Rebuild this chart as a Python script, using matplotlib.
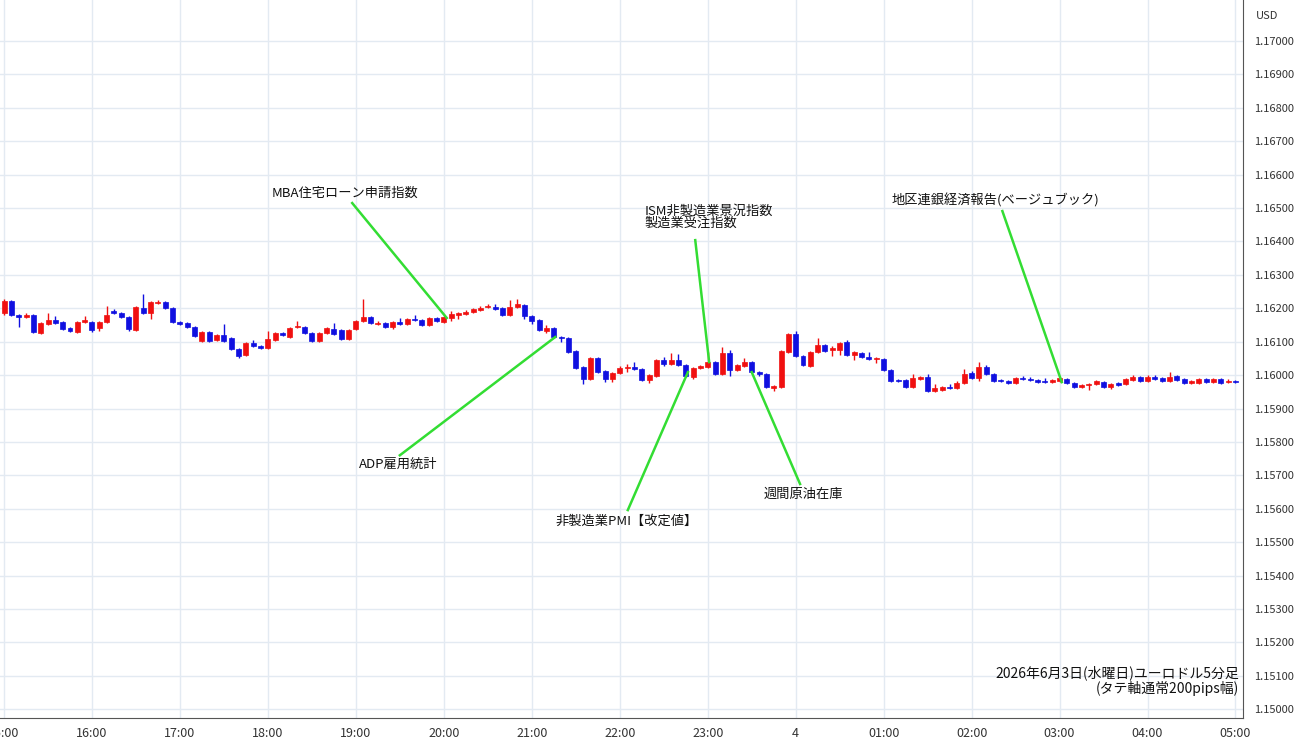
import matplotlib
matplotlib.use("Agg")
import matplotlib.pyplot as plt
import numpy as np

plt.rcParams['font.family'] = ['Noto Sans CJK JP', 'DejaVu Sans']

# prices stored as pips above 1.15000 (5-minute candles from 15:00)
opens = [118.5,122.1,117.9,117.3,117.9,112.5,115.2,116.4,115.8,114.0,112.8,115.8,115.8,114.0,115.8,119.1,118.5,117.3,113.4,120.0,
 118.5,121.5,121.8,120.0,115.8,115.5,114.3,110.1,112.8,110.4,111.9,111.0,107.7,105.9,109.5,108.6,108.0,110.4,112.5,111.3,
 114.3,114.3,112.5,110.1,112.5,113.7,113.4,110.7,113.7,116.1,117.3,115.4,115.5,114.3,115.8,115.2,116.7,116.4,114.9,117.0,
 115.8,117.0,117.9,118.2,118.8,119.4,120.3,120.3,120.0,117.9,120.3,120.9,117.6,116.4,113.1,114.0,111.3,111.0,107.1,102.3,
 98.7,105.0,101.1,98.7,100.5,102.0,102.3,101.7,98.4,99.6,104.4,103.2,104.4,102.9,99.3,102.0,102.3,103.8,100.2,106.5,
 101.4,102.6,103.8,100.8,100.2,96.0,96.3,106.8,112.2,105.6,102.6,106.8,108.9,107.4,107.4,109.8,105.9,106.5,105.3,104.7,
 104.7,101.4,98.4,98.4,96.3,98.7,99.3,95.1,95.4,96.3,96.0,97.5,100.5,99.0,102.3,100.2,98.4,98.1,97.5,99.0,
 98.7,98.4,98.1,97.8,98.1,98.7,97.5,96.3,96.9,97.2,97.8,96.3,97.5,97.2,98.4,99.3,98.1,99.3,99.0,98.1,
 99.6,98.7,97.5,97.5,98.7,97.8,98.7,97.8,98.1]
closes = [122.1,117.9,117.3,117.9,112.8,115.5,116.4,115.5,113.7,113.1,115.8,116.4,113.4,115.8,117.9,118.5,117.3,113.7,120.3,118.5,
 121.8,121.8,120.0,115.8,115.2,114.3,111.6,112.8,110.1,111.9,110.1,107.7,105.6,109.5,108.6,108.0,110.7,112.5,111.9,114.0,
 114.6,112.5,110.1,112.5,114.0,112.2,110.7,113.4,116.1,117.3,115.5,115.7,114.3,115.8,115.2,116.7,116.4,114.9,117.0,116.1,
 117.3,118.2,118.5,118.8,119.7,120.0,120.6,119.7,117.9,120.3,121.2,117.6,116.1,113.4,114.0,111.3,111.0,106.8,102.0,98.7,
 105.0,100.8,98.7,100.5,102.0,102.3,101.7,98.4,99.9,104.4,103.2,104.4,102.9,99.6,102.0,102.6,103.8,100.2,106.5,101.4,
 102.9,103.8,100.8,100.2,96.3,96.6,107.1,112.2,105.6,102.9,106.8,108.9,107.1,108.0,109.5,105.9,106.8,105.3,104.7,105.0,
 101.4,98.1,98.1,96.3,99.0,99.3,95.1,96.0,96.3,96.0,97.5,100.2,99.0,102.3,100.2,98.1,98.1,97.5,99.0,98.7,
 98.4,97.8,97.8,98.4,99.0,97.5,96.3,96.9,97.2,98.1,96.3,97.2,96.9,98.7,99.3,98.1,99.3,98.7,98.1,99.3,
 98.4,97.5,98.1,98.7,97.8,98.7,97.5,98.1,97.8]
highs = [122.7,122.4,118.2,118.5,118.2,115.8,118.5,117.6,116.1,114.3,116.1,117.6,116.1,116.1,120.6,119.7,118.8,117.6,120.6,124.2,
 122.1,122.4,122.1,120.3,116.1,115.8,114.6,113.1,113.1,112.2,115.2,111.3,108.0,109.8,110.4,108.9,113.1,112.8,112.8,114.3,
 116.1,114.6,112.8,112.8,114.3,115.5,113.7,113.7,116.4,122.7,117.6,116.1,115.8,116.1,117.0,117.0,117.9,116.7,117.3,117.3,
 117.6,119.1,118.8,119.4,120.0,120.6,121.2,121.2,120.3,122.4,122.7,121.2,117.9,116.7,114.9,114.3,111.6,111.3,107.4,102.6,
 105.3,105.3,101.4,100.8,102.6,103.2,103.8,102.0,100.2,104.7,105.3,106.5,106.2,103.2,102.3,102.9,106.8,104.1,108.3,107.4,
 103.2,105.0,104.1,101.1,100.5,96.9,107.4,112.5,113.1,105.9,107.1,111.0,109.2,108.6,109.8,110.4,107.1,106.8,106.8,105.3,
 105.0,101.7,98.7,98.7,100.2,99.6,100.2,97.2,96.6,97.2,98.1,101.7,101.1,103.8,102.9,100.5,98.7,98.4,99.3,99.6,
 99.3,98.7,99.0,98.7,99.3,99.0,97.8,97.2,97.5,98.4,98.1,97.5,97.8,99.0,99.9,99.6,99.9,99.9,99.3,100.8,
 99.9,99.0,98.4,99.0,99.0,99.0,99.0,98.7,98.4]
lows = [117.9,117.6,114.3,117.0,112.5,112.2,114.9,115.2,113.4,112.8,112.5,115.5,112.8,113.1,115.5,118.2,117.0,113.1,113.1,118.2,
 116.7,121.2,119.7,115.5,114.9,114.0,111.3,109.8,109.8,110.1,109.8,107.4,105.0,105.6,108.3,107.7,107.7,110.1,111.6,111.0,
 114.0,112.2,109.8,109.8,112.2,111.9,110.4,110.4,113.4,115.8,115.2,115.1,114.0,113.7,114.9,114.9,116.1,114.6,114.6,115.8,
 115.5,116.1,116.7,117.9,118.5,119.1,120.0,119.4,117.6,117.6,120.0,116.7,115.2,113.1,112.5,111.0,109.8,106.5,101.7,97.2,
 98.4,100.5,97.8,97.8,100.2,100.8,101.4,98.1,97.5,99.3,102.6,102.9,102.6,99.3,98.7,101.7,102.0,99.9,99.9,99.6,
 101.1,102.3,100.5,99.6,96.0,95.1,96.0,106.5,105.3,102.6,102.3,106.5,106.8,105.6,105.9,105.6,104.4,105.0,104.4,103.5,
 101.1,97.8,97.8,96.0,96.0,98.4,94.8,94.8,95.1,95.7,95.7,97.2,98.7,98.1,99.9,97.8,97.8,97.2,97.2,98.4,
 98.1,97.5,97.5,97.5,97.8,97.2,96.0,96.0,95.4,96.9,96.0,95.7,96.6,96.9,98.1,97.8,97.8,98.4,97.8,97.8,
 98.1,97.2,97.2,97.2,97.5,97.5,97.2,97.5,97.5]

hour_labels = ["15:00","16:00","17:00","18:00","19:00","20:00","21:00","22:00","23:00","4",
               "01:00","02:00","03:00","04:00","05:00"]
ytick_vals = [1.150 + 0.001*k for k in range(21)]

events = [
    ("MBA住宅ローン申請指数", (46.5, 1.16545), (47.5, 1.16515), (60.4, 1.16171), 'center'),
    ("ADP雇用統計", (53.8, 1.15734), (54.0, 1.15760), (75.2, 1.16114), 'center'),
    ("ISM非製造業景況指数\n製造業受注指数", (87.4, 1.16470), (94.3, 1.16404), (96.2, 1.16039), 'left'),
    ("非製造業PMI【改定値】", (85.0, 1.15563), (85.1, 1.15596), (93.3, 1.16009), 'center'),
    ("週間原油在庫", (109.0, 1.15644), (108.6, 1.15674), (102.0, 1.16009), 'center'),
    ("地区連銀経済報告(ベージュブック)", (135.3, 1.16524), (136.2, 1.16491), (144.3, 1.15979), 'center'),
]

to_price = lambda a: 1.15 + np.asarray(a) / 10000.0
O, C, H, L = map(to_price, (opens, closes, highs, lows))
n = len(O)
idx = np.arange(n)

fig = plt.figure(figsize=(13, 7.45), dpi=100)
ax = fig.add_axes([0, 0.036, 0.956, 0.964])

RED = '#f01010'
BLUE = '#1010e0'
cols = [RED if c >= o else BLUE for o, c in zip(O, C)]
ax.vlines(idx, L, H, colors=cols, linewidth=1.0, zorder=3)
bottoms = np.minimum(O, C)
heights = np.maximum(np.abs(C - O), 0.000012)
ax.bar(idx, heights, bottom=bottoms, width=0.68, color=cols, edgecolor=cols, linewidth=0.5, zorder=4)

ax.set_xlim(-0.55, 169.0)
ax.set_ylim(1.149731, 1.171228)

ax.set_xticks(np.arange(0, 169, 12))
ax.set_xticklabels(hour_labels, fontsize=9, color='#333333')
ax.set_yticks(ytick_vals)
ax.yaxis.tick_right()
ax.set_yticklabels([f"{v:.5f}" for v in ytick_vals], fontsize=8, color='#333333')
ax.tick_params(axis='both', length=0, pad=6)
ax.tick_params(axis='y', pad=8)
ax.grid(True, color='#e3eaf2', linewidth=1.0, zorder=0)
for s in ['top', 'left']:
    ax.spines[s].set_visible(False)
ax.spines['right'].set_color('#555555')
ax.spines['bottom'].set_color('#555555')

fig.text(0.966, 0.978, "USD", fontsize=8, color='#333333', va='center')

GREEN = '#33dd33'
for label, tpos, lstart, tip, ha in events:
    ax.plot([lstart[0], tip[0]], [lstart[1], tip[1]], color=GREEN, linewidth=1.8, zorder=5)
    ax.text(tpos[0], tpos[1], label, ha=ha, va='center', fontsize=9.5, color='#111111',
            linespacing=1.0, zorder=6)

ax.text(168.5, 1.15085, "2026年6月3日(水曜日)ユーロドル5分足\n(タテ軸通常200pips幅)",
        ha='right', va='center', fontsize=10, color='#111111', linespacing=1.05, zorder=6)

fig.savefig("out.png", dpi=100)
